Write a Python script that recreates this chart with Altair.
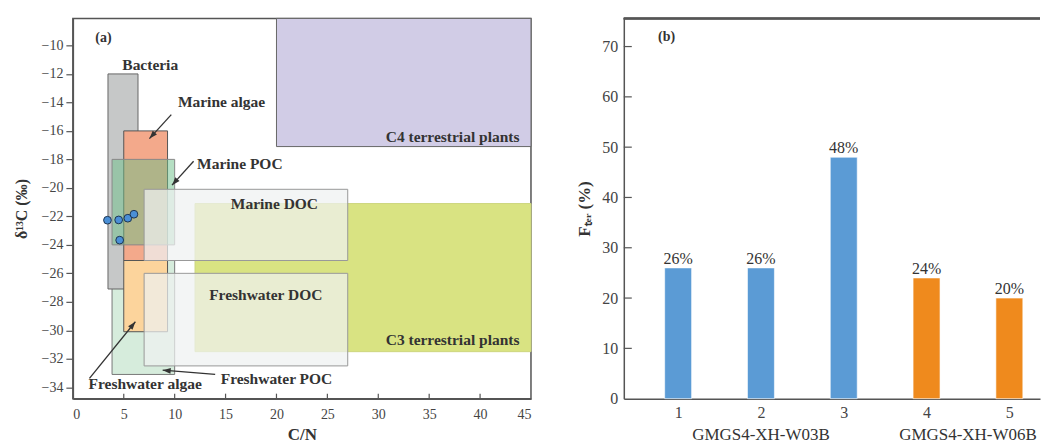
import math
import altair as alt
import pandas as pd

# ---------------- Panel (a) data ----------------
box_name = ["C4 terrestrial plants", "C3 terrestrial plants", "Freshwater POC", "Bacteria",
            "Marine algae", "Freshwater algae", "Marine POC", "Marine DOC", "Freshwater DOC"]
box_x1 = [20.0, 12.0, 3.85, 3.45, 5.0, 5.0, 3.85, 7.0, 7.0]
box_x2 = [45.0, 45.0, 10.0, 6.4, 9.3, 9.3, 10.0, 27.0, 27.0]
box_y1 = [-17.1, -31.5, -33.1, -27.1, -25.1, -30.1, -24.0, -25.1, -32.5]
box_y2 = [-8.1, -21.1, -25.1, -12.0, -16.0, -25.1, -18.0, -20.1, -26.0]

pt_x = [3.4, 4.5, 5.4, 6.0, 4.6]
pt_y = [-22.27, -22.25, -22.13, -21.85, -23.67]

lab_text = ["Bacteria", "Marine algae", "Marine POC", "Marine DOC", "Freshwater DOC",
            "Freshwater algae", "Freshwater POC", "C4 terrestrial plants", "C3 terrestrial plants"]
lab_x = [7.6, 14.6, 16.4, 19.8, 18.95, 7.1, 20.0, 37.3, 37.3]
lab_y = [-11.4, -13.96, -18.3, -21.15, -27.5, -33.8, -33.45, -16.4, -30.7]

arr_x1 = [9.67, 11.86, 1.63, 13.98]
arr_y1 = [-14.86, -18.13, -33.38, -33.1]
arr_x2 = [7.52, 9.74, 6.14, 8.82]
arr_y2 = [-16.54, -19.81, -29.4, -32.8]

# ---------------- Panel (b) data ----------------
sample = [1, 2, 3, 4, 5]
fter = [26, 26, 48, 24, 20]
group = ["GMGS4-XH-W03B", "GMGS4-XH-W03B", "GMGS4-XH-W03B", "GMGS4-XH-W06B", "GMGS4-XH-W06B"]

# ---------------- styles ----------------
FONT = "Liberation Serif"
AXC = "#555555"
box_style = {
    "C4 terrestrial plants": dict(fill="#d1cce6", fillOpacity=1, stroke="#666666"),
    "C3 terrestrial plants": dict(fill="#d9e382", fillOpacity=1, stroke="#cdd67e"),
    "Freshwater POC": dict(fill="#d6ecdc", fillOpacity=1, stroke="#777777"),
    "Bacteria": dict(fill="#c6c8c8", fillOpacity=1, stroke="#666666"),
    "Marine algae": dict(fill="#f3a98b", fillOpacity=1, stroke="#555555"),
    "Freshwater algae": dict(fill="#fcd49c", fillOpacity=1, stroke="#555555"),
    "Marine POC": dict(fill="#6cc088", fillOpacity=0.5, stroke="#888888"),
    "Marine DOC": dict(fill="#eef1f1", fillOpacity=0.72, stroke="#999999"),
    "Freshwater DOC": dict(fill="#eef1f1", fillOpacity=0.72, stroke="#999999"),
}

W1, H = 459, 381
W2 = 417
XD1 = [0, 45]
YD1 = [-34.8, -8.1]

boxes = pd.DataFrame({"name": box_name, "x1": box_x1, "x2": box_x2, "y1": box_y1, "y2": box_y2})
pts = pd.DataFrame({"x": pt_x, "y": pt_y})
labs = pd.DataFrame({"t": lab_text, "x": lab_x, "y": lab_y})

sx = W1 / (XD1[1] - XD1[0])
sy = H / (YD1[1] - YD1[0])
angles = []
for a, b, c, d in zip(arr_x1, arr_y1, arr_x2, arr_y2):
    dx = (c - a) * sx
    dy = -(d - b) * sy
    angles.append(math.degrees(math.atan2(dx, -dy)) % 360)
arrows = pd.DataFrame({"x1": arr_x1, "y1": arr_y1, "x2": arr_x2, "y2": arr_y2, "ang": angles})

xs1 = alt.Scale(domain=XD1, nice=False, zero=False)
ys1 = alt.Scale(domain=YD1, nice=False, zero=False)

x_axis1 = alt.Axis(values=list(range(0, 46, 5)), ticks=False, labelPadding=9, grid=False,
                   title="C/N", titleFontSize=17, titlePadding=5, domainColor=AXC, domainWidth=1.5)
y_axis1 = alt.Axis(values=list(range(-34, -9, 2)), tickSize=7, tickColor=AXC, tickWidth=1.2,
                   labelPadding=3, grid=False, title="δ¹³C (‰)", titleFontSize=16, titlePadding=12,
                   domainColor=AXC, domainWidth=1.5)


def X1(f):
    return alt.X(f, scale=xs1, axis=x_axis1)


def Y1(f):
    return alt.Y(f, scale=ys1, axis=y_axis1)


layers = []
for nm in box_name:
    st = box_style[nm]
    layers.append(
        alt.Chart(boxes).transform_filter(alt.datum.name == nm)
        .mark_rect(fill=st["fill"], fillOpacity=st["fillOpacity"], stroke=st["stroke"], strokeWidth=1)
        .encode(x=X1("x1:Q"), x2="x2:Q", y=Y1("y1:Q"), y2="y2:Q")
    )

# inward x ticks of panel (a)
xt1 = pd.DataFrame({"v": list(range(5, 45, 5))})
layers.append(
    alt.Chart(xt1).mark_rule(color=AXC, strokeWidth=1.2)
    .encode(x=X1("v:Q"), y=alt.value(H), y2=alt.value(H - 5))
)

layers.append(
    alt.Chart(arrows).mark_rule(color="#333333", strokeWidth=1.3)
    .encode(x=X1("x1:Q"), y=Y1("y1:Q"), x2="x2:Q", y2="y2:Q")
)
layers.append(
    alt.Chart(arrows).mark_point(shape="M0,0L-0.6,1.7L0.6,1.7Z", filled=True, size=90,
                                 color="#333333", opacity=1)
    .encode(x=X1("x2:Q"), y=Y1("y2:Q"), angle=alt.Angle("ang:Q", scale=None))
)
layers.append(
    alt.Chart(pts).mark_point(shape="circle", filled=True, size=60, fill="#4a8fd6",
                              stroke="#1e3550", strokeWidth=1, opacity=1)
    .encode(x=X1("x:Q"), y=Y1("y:Q"))
)
layers.append(
    alt.Chart(labs).mark_text(font=FONT, fontWeight="bold", fontSize=15.5, color="#333333")
    .encode(x=X1("x:Q"), y=Y1("y:Q"), text="t:N")
)
layers.append(
    alt.Chart(pd.DataFrame({"t": ["(a)"], "x": [3.0], "y": [-9.47]}))
    .mark_text(font=FONT, fontWeight="bold", fontSize=14, color="#333333")
    .encode(x=X1("x:Q"), y=Y1("y:Q"), text="t:N")
)

left = alt.layer(*layers).properties(width=W1, height=H)

# ---------------- Panel (b) ----------------
bars = pd.DataFrame({"sample": sample, "fter": fter, "group": group})
XD2 = [0.404, 0.404 + W2 / 85.0]
YD2 = [0, 75.6]
xs2 = alt.Scale(domain=XD2, nice=False, zero=False)
ys2 = alt.Scale(domain=YD2, nice=False, zero=False)

x_axis2 = alt.Axis(values=sample, format="d", ticks=False, labelPadding=6, grid=False, title=None,
                   labelFontSize=16, domainColor=AXC, domainWidth=1.5)
y_axis2 = alt.Axis(values=list(range(0, 71, 10)), ticks=False, labelPadding=6, grid=False,
                   labelFontSize=16, title="Fₜₑᵣ (%)", titleFontSize=17, titlePadding=8,
                   domainColor=AXC, domainWidth=1.5)


def X2(f):
    return alt.X(f, scale=xs2, axis=x_axis2)


def Y2(f):
    return alt.Y(f, scale=ys2, axis=y_axis2)


bar_layer = alt.Chart(bars).mark_bar(size=27, stroke="#ffffff", strokeWidth=0.6).encode(
    x=X2("sample:Q"),
    y=Y2("fter:Q"),
    color=alt.Color("group:N", scale=alt.Scale(domain=["GMGS4-XH-W03B", "GMGS4-XH-W06B"],
                                               range=["#5b9bd5", "#ef8a1d"]), legend=None),
)
bar_text = alt.Chart(bars).transform_calculate(lab="format(datum.fter, 'd') + '%'").mark_text(
    font=FONT, fontSize=16, color="#333333", baseline="bottom", dy=-1
).encode(x=X2("sample:Q"), y=Y2("fter:Q"), text="lab:N")

yt2 = pd.DataFrame({"v": list(range(10, 71, 10))})
ytick2 = alt.Chart(yt2).mark_rule(color=AXC, strokeWidth=1.2).encode(
    y=Y2("v:Q"), x=alt.value(0), x2=alt.value(8))

top_rule = alt.Chart(yt2).mark_rule(color=AXC, strokeWidth=1.5).encode(
    x=alt.value(0), x2=alt.value(W2), y=alt.value(0))

group_text = alt.Chart(bars).transform_aggregate(
    center="mean(sample)", groupby=["group"]
).mark_text(font=FONT, fontSize=17, color="#333333", baseline="middle").encode(
    x=X2("center:Q"), y=alt.value(H + 36), text="group:N")

b_text = alt.Chart(pd.DataFrame({"t": ["(b)"], "x": [0.86], "y": [71.8]})).mark_text(
    font=FONT, fontWeight="bold", fontSize=14, color="#333333"
).encode(x=X2("x:Q"), y=Y2("y:Q"), text="t:N")

right = alt.layer(bar_layer, bar_text, ytick2, top_rule, group_text, b_text).properties(
    width=W2, height=H, view=alt.ViewBackground(stroke="transparent"))

chart = alt.hconcat(left, right, spacing=93, bounds="flush").properties(
    padding={"left": 12, "top": 16, "right": 0, "bottom": 0}, background="white"
).configure_view(stroke=AXC, strokeWidth=1.5).configure_axis(
    labelFont=FONT, labelFontSize=14, labelColor="#444444",
    titleFont=FONT, titleFontWeight="bold", titleColor="#333333"
)

chart.save("out.html", embed_options={"renderer": "svg", "actions": False})
